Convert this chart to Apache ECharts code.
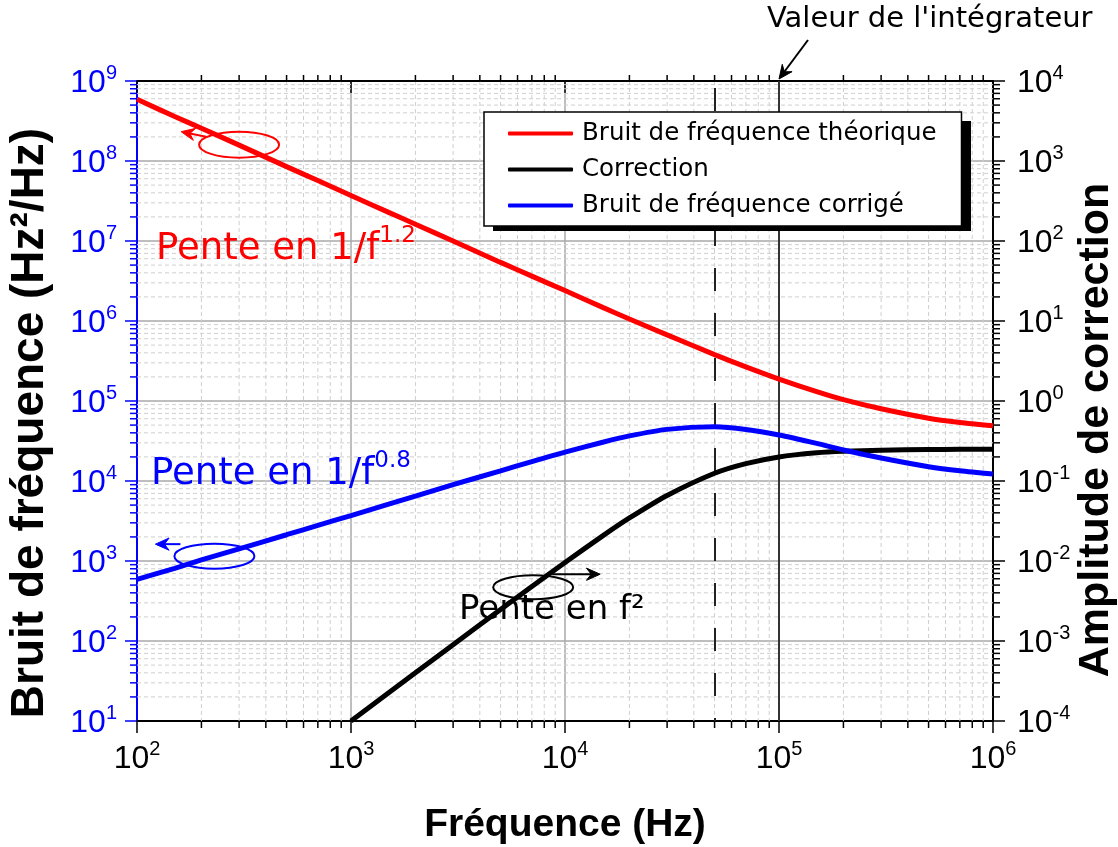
<!DOCTYPE html>
<html><head><meta charset="utf-8">
<script src="https://cdn.jsdelivr.net/npm/echarts@6/dist/echarts.min.js"></script>
<style>html,body{margin:0;padding:0;background:#fff}#c{width:1118px;height:847px}</style>
</head><body><div id="c"></div>
<script>
// ---- data ----
const freq = [100,150,200,300,500,700,1000,1500,2000,3000,5000,7000,1e4,1.5e4,2e4,3e4,5e4,7e4,1e5,1.5e5,2e5,3e5,5e5,7e5,1e6];
const bruitTheorique = [5.9e8,3.6e8,2.57e8,1.58e8,8.5e7,5.7e7,3.7e7,2.28e7,1.62e7,1.0e7,5.4e6,3.64e6,2.4e6,1.48e6,1.06e6,6.7e5,3.8e5,2.67e5,1.88e5,1.31e5,1.04e5,8.0e4,6.1e4,5.4e4,4.9e4];
const correctionFreq = [1000,1500,2000,3000,5000,7000,1e4,1.5e4,2e4,3e4,5e4,7e4,1e5,1.5e5,2e5,3e5,5e5,7e5,1e6];
const correction = [1.0e-4,2.25e-4,4.0e-4,9.0e-4,2.48e-3,4.8e-3,9.6e-3,2.06e-2,3.45e-2,6.6e-2,0.125,0.165,0.2,0.225,0.235,0.243,0.2475,0.2487,0.249];
const bruitCorrige = [590,810,1030,1420,2130,2790,3700,5130,6480,9000,13400,17500,23000,30500,36600,44200,47500,44100,37600,29500,24400,19400,15100,13400,12200];
const xTickValues = [1e2,1e3,1e4,1e5,1e6];
const yLeftTickValues = [1e1,1e2,1e3,1e4,1e5,1e6,1e7,1e8,1e9];
const yRightTickValues = [1e-4,1e-3,1e-2,1e-1,1e0,1e1,1e2,1e3,1e4];
const fc = 5e4;          // dashed line
const integrateur = 1e5; // solid line
const seriesNames = ['Bruit de fréquence théorique','Correction','Bruit de fréquence corrigé'];

// minor tick positions (2..9 in each decade)
function minors(lo, hi){ const out=[]; for(let d=lo; d<hi; d*=10){ for(let k=2;k<=9;k++) out.push(d*k);} return out; }
const minorX = minors(1e2,1e6);
const minorY = minors(1e1,1e9);

const SANS = "'Liberation Sans',Arial,sans-serif";
const DV = "'DejaVu Sans',sans-serif";
function expLabel(v){ const e = Math.round(Math.log10(v)); return '{b|10}{s|' + e + '}'; }
function rich(color){ return {
  b:{fontSize:32, fontFamily:SANS, color:color, lineHeight:36, verticalAlign:'bottom'},
  s:{fontSize:20, fontFamily:SANS, color:color, lineHeight:20, verticalAlign:'top'}
};}

const chart = echarts.init(document.getElementById('c'), null, {renderer:'canvas'});
const G = {left:137, right:125, top:81, bottom:126};

const option = {
  animation:false,
  backgroundColor:'#fff',
  grid:{left:G.left, right:G.right, top:G.top, bottom:G.bottom, containLabel:false, outerBoundsMode:'none'},
  legend:{
    orient:'vertical', left:484, top:112, z:30, data:seriesNames,
    icon:'roundRect', itemWidth:65, itemHeight:4, itemGap:11,
    padding:[9,25,8,24], backgroundColor:'#fff', borderColor:'#000', borderWidth:1.5, borderRadius:0,
    textStyle:{fontFamily:DV, fontSize:24.5, color:'#000', lineHeight:24, padding:[0,0,0,4]},
    selectedMode:false
  },
  xAxis:[{
    type:'log', logBase:10, min:1e2, max:1e6, splitNumber:4, position:'bottom',
    axisLine:{show:true, onZero:false, lineStyle:{color:'#000', width:2}},
    axisTick:{show:true, inside:false, length:12, lineStyle:{color:'#000', width:1.5}},
    axisLabel:{formatter:expLabel, rich:rich('#000'), margin:18},
    splitLine:{show:true, lineStyle:{color:'#a8a8a8', width:1.5}},
    name:'Fréquence (Hz)', nameLocation:'middle', nameGap:85,
    nameTextStyle:{fontFamily:SANS, fontWeight:'bold', fontSize:39, color:'#000'}
  },{
    type:'log', logBase:10, min:1e2, max:1e6, splitNumber:4, position:'top',
    axisLine:{show:true, onZero:false, lineStyle:{color:'#000', width:2}},
    axisTick:{show:true, inside:true, length:12, lineStyle:{color:'#000', width:1.5}},
    axisLabel:{show:false}, splitLine:{show:false}
  }],
  yAxis:[{
    type:'log', logBase:10, min:1e1, max:1e9, splitNumber:8, position:'left',
    axisLine:{show:true, onZero:false, lineStyle:{color:'#0000ff', width:2}},
    axisTick:{show:true, inside:false, length:12, lineStyle:{color:'#0000ff', width:1.5}},
    axisLabel:{formatter:expLabel, rich:rich('#0000ff'), margin:20},
    splitLine:{show:true, lineStyle:{color:'#a8a8a8', width:1.5}}
  },{
    type:'log', logBase:10, min:1e-4, max:1e4, splitNumber:8, position:'right',
    axisLine:{show:true, onZero:false, lineStyle:{color:'#000', width:2}},
    axisTick:{show:true, inside:false, length:12, lineStyle:{color:'#000', width:1.5}},
    axisLabel:{formatter:expLabel, rich:rich('#000'), margin:24},
    splitLine:{show:false}
  }],
  series:[
    { // minor vertical grid + ticks
      type:'custom', xAxisIndex:0, yAxisIndex:0, silent:true, z:1, clip:false,
      data:minorX.map(v=>[v,1e5]), encode:{x:0,y:1},
      renderItem:function(params, api){
        const x = api.value(0);
        const pt = api.coord([x,1e9]), pb = api.coord([x,1e1]);
        return {type:'group', children:[
          {type:'line', shape:{x1:pt[0],y1:pt[1],x2:pb[0],y2:pb[1]}, style:{stroke:'#cfcfcf', lineWidth:1, lineDash:[4,3]}},
          {type:'line', shape:{x1:pb[0],y1:pb[1],x2:pb[0],y2:pb[1]+7}, style:{stroke:'#000', lineWidth:1.5}},
          {type:'line', shape:{x1:pt[0],y1:pt[1]-6,x2:pt[0],y2:pt[1]+1}, style:{stroke:'#000', lineWidth:1.5}}
        ]};
      }
    },
    { // minor horizontal grid + ticks
      type:'custom', xAxisIndex:0, yAxisIndex:0, silent:true, z:1, clip:false,
      data:minorY.map(v=>[1e4,v]), encode:{x:0,y:1},
      renderItem:function(params, api){
        const y = api.value(1);
        const pl = api.coord([1e2,y]), pr = api.coord([1e6,y]);
        return {type:'group', children:[
          {type:'line', shape:{x1:pl[0],y1:pl[1],x2:pr[0],y2:pr[1]}, style:{stroke:'#cfcfcf', lineWidth:1, lineDash:[4,3]}},
          {type:'line', shape:{x1:pl[0]-7,y1:pl[1],x2:pl[0],y2:pl[1]}, style:{stroke:'#0000ff', lineWidth:1.5}},
          {type:'line', shape:{x1:pr[0],y1:pr[1],x2:pr[0]+7,y2:pr[1]}, style:{stroke:'#000', lineWidth:1.5}}
        ]};
      }
    },
    {
      name:seriesNames[0], type:'line', xAxisIndex:0, yAxisIndex:0, z:5,
      data:freq.map((f,i)=>[f,bruitTheorique[i]]), showSymbol:false, smooth:0.25,
      lineStyle:{color:'#ff0000', width:5}, itemStyle:{color:'#ff0000'}
    },
    {
      name:seriesNames[1], type:'line', xAxisIndex:0, yAxisIndex:1, z:5,
      data:correctionFreq.map((f,i)=>[f,correction[i]]), showSymbol:false, smooth:0.25,
      lineStyle:{color:'#000', width:5}, itemStyle:{color:'#000'}
    },
    {
      name:seriesNames[2], type:'line', xAxisIndex:0, yAxisIndex:0, z:5,
      data:freq.map((f,i)=>[f,bruitCorrige[i]]), showSymbol:false, smooth:0.25,
      lineStyle:{color:'#0000ff', width:5}, itemStyle:{color:'#0000ff'},
      markLine:{
        silent:true, symbol:'none', label:{show:false}, animation:false,
        data:[
          {xAxis:fc, lineStyle:{type:[23,22], dashOffset:20, color:'#222', width:2}},
          {xAxis:integrateur, lineStyle:{type:'solid', color:'#333', width:2}}
        ]
      }
    }
  ]
};
chart.setOption(option);

// ---- annotations ----
const annRed = [300, 1.6e8], annBlue = [230, 1150], annBlack = [7100, 470];
function px(p){ return chart.convertToPixel({xAxisIndex:0, yAxisIndex:0}, p); }
function arrow(x1,y1,tx,ty,color,w){
  const a = Math.atan2(ty-y1, tx-x1), L=15, h=0.42;
  const bx1 = tx - L*Math.cos(a-h), by1 = ty - L*Math.sin(a-h);
  const bx2 = tx - L*Math.cos(a+h), by2 = ty - L*Math.sin(a+h);
  const nx = tx - 9*Math.cos(a), ny = ty - 9*Math.sin(a);
  return [
    {type:'line', z:20, shape:{x1:x1,y1:y1,x2:nx,y2:ny}, style:{stroke:color, lineWidth:w}},
    {type:'polygon', z:20, shape:{points:[[tx,ty],[bx1,by1],[nx,ny],[bx2,by2]]}, style:{fill:color, stroke:color, lineWidth:1}}
  ];
}
const r = px(annRed), b = px(annBlue), k = px(annBlack);
const g = [];
// legend shadow
g.push({type:'rect', z:25, shape:{x:493, y:121, width:478, height:110}, style:{fill:'#000'}});
g.push({type:'ellipse', z:20, shape:{cx:r[0],cy:r[1],rx:40,ry:13}, style:{fill:'none', stroke:'#ff0000', lineWidth:2}});
g.push(...arrow(r[0]-33, r[1]-8, r[0]-58, r[1]-13, '#ff0000', 2));
g.push({type:'ellipse', z:20, shape:{cx:b[0],cy:b[1],rx:40,ry:12.5}, style:{fill:'none', stroke:'#0000ff', lineWidth:2}});
g.push(...arrow(b[0]-34, b[1]-12, b[0]-59, b[1]-12, '#0000ff', 2));
g.push({type:'ellipse', z:20, shape:{cx:k[0],cy:k[1],rx:40,ry:12}, style:{fill:'none', stroke:'#000', lineWidth:2}});
g.push(...arrow(k[0]+19, k[1]-13, k[0]+67, k[1]-13, '#000', 2));
g.push(...arrow(808, 40, 779, 79, '#000', 2));
g.push({type:'text', z:20, left:767, top:5, style:{text:"Valeur de l'intégrateur", fontFamily:DV, fontSize:29, fill:'#000'}});
g.push({type:'text', z:20, left:156, top:225, style:{text:'{a|Pente en 1/f}{s|1.2}', rich:{
  a:{fontFamily:DV, fontSize:37, fill:'#ff0000', color:'#ff0000', lineHeight:43, verticalAlign:'bottom'},
  s:{fontFamily:DV, fontSize:23, fill:'#ff0000', color:'#ff0000', lineHeight:24, verticalAlign:'top'}}}});
g.push({type:'text', z:20, left:151, top:450, style:{text:'{a|Pente en 1/f}{s|0.8}', rich:{
  a:{fontFamily:DV, fontSize:37, fill:'#0000ff', color:'#0000ff', lineHeight:43, verticalAlign:'bottom'},
  s:{fontFamily:DV, fontSize:23, fill:'#0000ff', color:'#0000ff', lineHeight:24, verticalAlign:'top'}}}});
g.push({type:'text', z:20, left:459, top:593, style:{text:'Pente en f²', fontFamily:DV, fontSize:34, fill:'#000'}});
// y-axis titles
g.push({type:'text', z:20, x:30, y:423, rotation:Math.PI/2, style:{text:'Bruit de fréquence (Hz²/Hz)', fontFamily:SANS, fontWeight:'bold', fontSize:46, fill:'#000', align:'center', verticalAlign:'middle'}});
g.push({type:'text', z:20, x:1096, y:430, rotation:Math.PI/2, style:{text:'Amplitude de correction', fontFamily:SANS, fontWeight:'bold', fontSize:43, fill:'#000', align:'center', verticalAlign:'middle'}});
chart.setOption({graphic:g});
</script></body></html>
